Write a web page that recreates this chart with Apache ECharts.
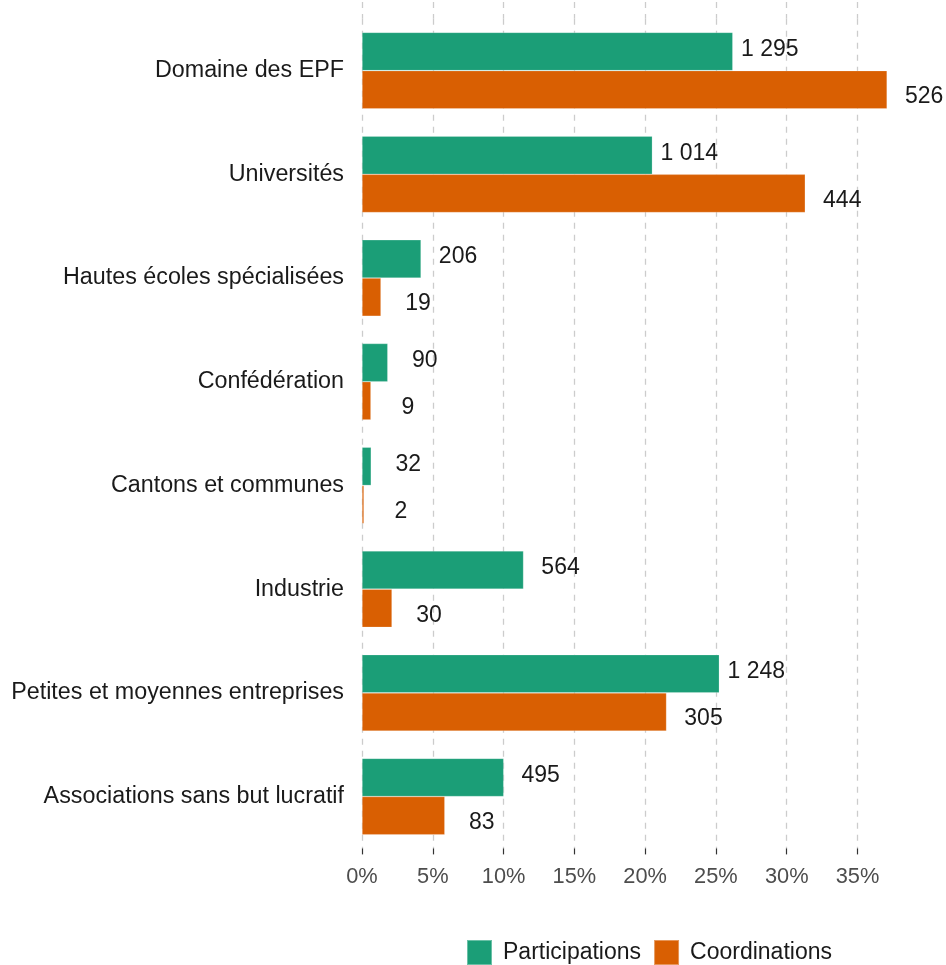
<!DOCTYPE html>
<html>
<head>
<meta charset="utf-8">
<script src="https://cdn.jsdelivr.net/npm/echarts@6/dist/echarts.min.js"></script>
<style>
  html, body { margin: 0; padding: 0; background: #ffffff; }
  #chart { width: 946px; height: 965px; }
</style>
</head>
<body>
<div id="chart"></div>
<script>
// ---- data ----
const categories = [
  'Domaine des EPF',
  'Universités',
  'Hautes écoles spécialisées',
  'Confédération',
  'Cantons et communes',
  'Industrie',
  'Petites et moyennes entreprises',
  'Associations sans but lucratif'
];
const seriesNames = ['Participations', 'Coordinations'];
// counts shown as labels
const participationsCount = [1295, 1014, 206, 90, 32, 564, 1248, 495];
const coordinationsCount  = [526, 444, 19, 9, 2, 30, 305, 83];
// share of total (%) — bar lengths
const participationsPct = [26.19, 20.51, 4.17, 1.82, 0.65, 11.41, 25.24, 10.01];
const coordinationsPct  = [37.09, 31.31, 1.34, 0.63, 0.14, 2.12, 21.51, 5.85];
// x axis ticks
const xTicks = [0, 5, 10, 15, 20, 25, 30, 35];

const FONT = 'Arial, "Liberation Sans", sans-serif';
const colors = ['#1b9e77', '#d95f02'];

function fmtCount(n) {
  return String(n).replace(/\B(?=(\d{3})+(?!\d))/g, ' ');
}

const xMin = xTicks[0];
const xMax = xTicks[xTicks.length - 1];
const xInterval = xTicks[1] - xTicks[0];

const gridLine = { show: true, lineStyle: { color: '#cccccc', width: 1.3, type: [6, 6] } };

function makeSeries(idx, values, counts, dy) {
  return {
    name: seriesNames[idx],
    type: 'bar',
    xAxisIndex: 0,
    yAxisIndex: 0,
    data: values,
    barWidth: 38.2,
    barGap: '0%',
    clip: false,
    itemStyle: { color: colors[idx], borderColor: 'rgba(255,255,255,0.35)', borderWidth: 0.6 },
    label: {
      show: true,
      position: ['100%', '50%'],
      offset: [37, dy],
      align: 'center',
      verticalAlign: 'middle',
      fontFamily: FONT,
      fontSize: 23,
      color: '#1a1a1a',
      formatter: p => fmtCount(counts[p.dataIndex])
    },
    emphasis: { disabled: true },
    animation: false
  };
}

const chart = echarts.init(document.getElementById('chart'), null, { renderer: 'canvas' });
chart.setOption({
  backgroundColor: '#ffffff',
  animation: false,
  legend: {
    data: seriesNames,
    left: 461,
    top: 934,
    itemWidth: 25,
    itemHeight: 25,
    itemGap: 12,
    icon: 'rect',
    textStyle: { fontFamily: FONT, fontSize: 23, color: '#1a1a1a', padding: [6, 0, 0, 6] }
  },
  grid: [
    { left: 362, right: 88.5, top: 18.75, bottom: 116.6, containLabel: false },
    { left: 362, right: 88.5, top: 2, height: 16.75, containLabel: false }
  ],
  xAxis: [
    {
      type: 'value',
      gridIndex: 0,
      min: xMin,
      max: xMax,
      interval: xInterval,
      axisLine: { show: false },
      axisTick: { show: true, length: 6, lineStyle: { color: '#333333', width: 1.2 } },
      axisLabel: {
        formatter: '{value}%',
        fontFamily: FONT,
        fontSize: 21.8,
        color: '#4d4d4d',
        margin: 18
      },
      splitLine: gridLine
    },
    {
      type: 'value',
      gridIndex: 1,
      min: xMin,
      max: xMax,
      interval: xInterval,
      axisLine: { show: false },
      axisTick: { show: false },
      axisLabel: { show: false },
      splitLine: gridLine
    }
  ],
  yAxis: [
    {
      type: 'category',
      gridIndex: 0,
      data: categories,
      inverse: true,
      axisLine: { show: false },
      axisTick: { show: false },
      splitLine: { show: false },
      axisLabel: {
        fontFamily: FONT,
        fontSize: 23.3,
        color: '#1a1a1a',
        margin: 18
      }
    },
    {
      type: 'category',
      gridIndex: 1,
      data: [],
      show: false
    }
  ],
  series: [
    makeSeries(0, participationsPct, participationsCount, -2),
    makeSeries(1, coordinationsPct, coordinationsCount, 7)
  ]
});
</script>
</body>
</html>
